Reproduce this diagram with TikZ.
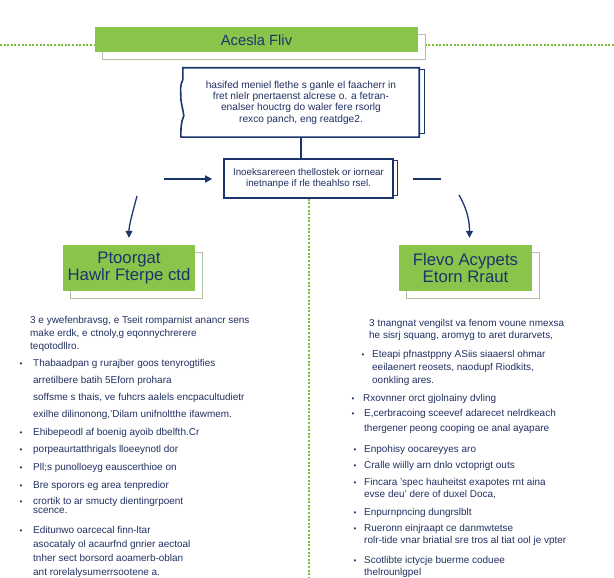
\documentclass[tikz,border=0pt]{standalone}
\usepackage{fontspec}
\setmainfont{Liberation Sans}
\usetikzlibrary{arrows.meta,calc,shadows}
\definecolor{leaf}{RGB}{139,196,74}
\definecolor{navy}{RGB}{28,52,108}
\definecolor{ink}{RGB}{34,48,98}
\definecolor{shade}{RGB}{176,192,160}
\definecolor{dotgreen}{RGB}{120,190,60}

\begin{document}
\begin{tikzpicture}[x=1bp,y=-1bp,
  greenbox/.style={fill=leaf,text=navy,align=center,inner sep=0pt,
    copy shadow={shadow xshift=7bp,shadow yshift=-7bp,fill=white,draw=shade,line width=0.8bp}},
  paper/.style={fill=white,text=ink,align=center,inner sep=0pt},
  bluebox/.style={paper,draw=navy,line width=1.6bp},
  link/.style={draw=navy,line width=1.3bp},
  arrow/.style={link,-{Triangle[width=7bp,length=7bp]}},
  dots/.style={draw=dotgreen,line width=2bp,dash pattern=on 2bp off 1.6bp},
  body/.style={text=ink,anchor=base west,align=left,inner sep=0pt},
  bul/.style={text=ink,anchor=base,inner sep=0pt,font=\fontsize{8}{8}\selectfont}
]
\useasboundingbox (0,0) rectangle (614,578);

% header
\coordinate (hL) at (0,45);
\coordinate (hR) at (614,45);
\draw[dots] (hL) -- (hR);
\node[greenbox,minimum width=323bp,minimum height=25bp,font=\fontsize{14.8}{16}\selectfont] (title) at (256.5,40) {Acesla Fliv};

% torn note
\node[paper,minimum width=236bp,minimum height=69bp,font=\fontsize{10.2}{11.3}\selectfont] (desc) at (301,102.5)
  {hasifed meniel flethe s ganle el faacherr in\\fret nlelr pnertaenst alcrese o. a fetran-\\enalser houctrg do waler fere rsorlg\\rexco panch, eng reatdge2.};
\draw[navy,line width=1.6bp] (desc.south west) -- (desc.south east) -- (desc.north east) -- (desc.north west) -- ++(0,12)
  .. controls +(-3,6) and +(0,-6) .. ++(-2,16)
  .. controls +(0,8) and +(-1,-8) .. ++(3,20)
  .. controls +(-3,6) and +(0,-6) .. ++(-3,21) -- (desc.south west);
\draw[navy,line width=1.2bp] ($(desc.north east)+(0,2)$) -- ++(5,0) -- ($(desc.south east)+(5,-4)$) -- ++(-5,0);

% middle step
\node[bluebox,minimum width=169bp,minimum height=39bp,font=\fontsize{9.8}{11.5}\selectfont] (mid) at (308.5,178.5)
  {Inoeksarereen thellostek or iornear\\inetnanpe if rle theahlso rsel.};
\draw[navy,line width=1.2bp] ($(mid.north east)+(0,2)$) -- ++(4,0) -- ($(mid.south east)+(4,-3)$) -- ++(-4,0);

\draw[link] (desc.south) -- (desc.south |- mid.north);
\coordinate (inL) at (164,179);
\draw[arrow,shorten >=11bp] (inL) -- (inL -| mid.west);
\coordinate (outA) at (413,179);
\coordinate (outB) at (441,179);
\draw[link] (outA) -- (outB);
\coordinate (gEnd) at (308,578);
\draw[dots] (mid.south) -- (mid.south |- gEnd);

% two columns
\node[greenbox,minimum width=132bp,minimum height=46bp,font=\fontsize{16.8}{18}\selectfont] (lbox) at (129,268) {Ptoorgat\\Hawlr Fterpe ctd};
\node[greenbox,minimum width=133bp,minimum height=46bp,font=\fontsize{16.8}{18}\selectfont] (rbox) at (465.5,268) {Flevo Acypets\\Etorn Rraut};

\coordinate (cL) at (137,196);
\coordinate (cR) at (459,195);
\draw[arrow,shorten >=7bp] (cL) to[out=-105,in=90] (lbox.north);
\draw[arrow,shorten >=7bp] (cR) to[out=-60,in=90] ([xshift=4bp]rbox.north);

% left text
\node[body,font=\fontsize{10}{13}\selectfont] (lintro) at (30,349)
  {3 e ywefenbravsg, e Tseit romparnist anancr sens\\make erdk, e ctnoly,g eqonnychrerere\\teqotodllro.};
\node[body,font=\fontsize{10}{17}\selectfont] (l1) at (33,417)
  {Thabaadpan g rurajber goos tenyrogtifies\\arretilbere batih 5Eforn prohara\\soffsme s thais, ve fuhcrs aalels encpacultudietr\\exilhe dilinonong,'Dilam unifnoltthe ifawmem.};
\node[body,font=\fontsize{10}{11}\selectfont] (l2) at (33,435) {Ehibepeodl af boenig ayoib dbelfth.Cr};
\node[body,font=\fontsize{10}{11}\selectfont] (l3) at (33,452) {porpeaurtatthrigals lloeeynotl dor};
\node[body,font=\fontsize{10}{11}\selectfont] (l4) at (33,470) {Pll;s punolloeyg eauscerthioe on};
\node[body,font=\fontsize{10}{11}\selectfont] (l5) at (33,488) {Bre sporors eg area tenpredior};
\node[body,font=\fontsize{10}{9}\selectfont] (l6) at (33,513) {crortik to ar smucty dientingrpoent\\scence.};
\node[body,font=\fontsize{10}{14}\selectfont] (l7) at (33,575)
  {Editunwo oarcecal finn-ltar\\asocataly ol acaurfnd gnrier aectoal\\tnher sect borsord aoamerb-oblan\\ant rorelalysumerrsootene a.};

\node[bul] (lb1) at (21,366) {\textbullet};
\node[bul] (lb2) at (21,435) {\textbullet};
\node[bul] (lb3) at (21,452) {\textbullet};
\node[bul] (lb4) at (21,470) {\textbullet};
\node[bul] (lb5) at (21,488) {\textbullet};
\node[bul] (lb6) at (21,504) {\textbullet};
\node[bul] (lb7) at (21,533) {\textbullet};

% right text
\node[body,font=\fontsize{10}{12}\selectfont] (rintro) at (369,338)
  {3 tnangnat vengilst va fenom voune nmexsa\\he sisrj squang, aromyg to aret durarvets,};
\node[body,font=\fontsize{10}{13}\selectfont] (r1) at (372,383)
  {Eteapi pfnastppny ASiis siaaersl ohmar\\eeilaenert reosets, naodupf Riodkits,\\oonkling ares.};
\node[body,font=\fontsize{10}{11}\selectfont] (r2) at (363,401) {Rxovnner orct gjolnainy dvling};
\node[body,font=\fontsize{10}{15}\selectfont] (r3) at (364,431)
  {E,cerbracoing sceevef adarecet nelrdkeach\\thergener peong cooping oe anal ayapare};
\node[body,font=\fontsize{10}{11}\selectfont] (r4) at (364,452) {Enpohisy oocareyyes aro};
\node[body,font=\fontsize{10}{11}\selectfont] (r5) at (364,468) {Cralle wiilly arn dnlo vctoprigt outs};
\node[body,font=\fontsize{10}{12}\selectfont] (r6) at (364,497)
  {Fincara 'spec hauheitst exapotes rnt aina\\evse deu' dere of duxel Doca,};
\node[body,font=\fontsize{10}{11}\selectfont] (r7) at (364,515) {Enpurnpncing dungrslblt};
\node[body,font=\fontsize{10}{12}\selectfont] (r8) at (364,543)
  {Rueronn einjraapt ce danmwtetse\\rolr-tide vnar briatial sre tros al tiat ool je vpter};
\node[body,font=\fontsize{10}{12}\selectfont] (r9) at (364,575)
  {Scotlibte ictycje buerme coduee\\thelrounlgpel};

\node[bul] (rb1) at (363,357) {\textbullet};
\node[bul] (rb2) at (353,401) {\textbullet};
\node[bul] (rb3) at (353,416) {\textbullet};
\node[bul] (rb4) at (355,452) {\textbullet};
\node[bul] (rb5) at (355,468) {\textbullet};
\node[bul] (rb6) at (355,485) {\textbullet};
\node[bul] (rb7) at (355,515) {\textbullet};
\node[bul] (rb8) at (355,531) {\textbullet};
\node[bul] (rb9) at (355,563) {\textbullet};
\end{tikzpicture}
\end{document}
